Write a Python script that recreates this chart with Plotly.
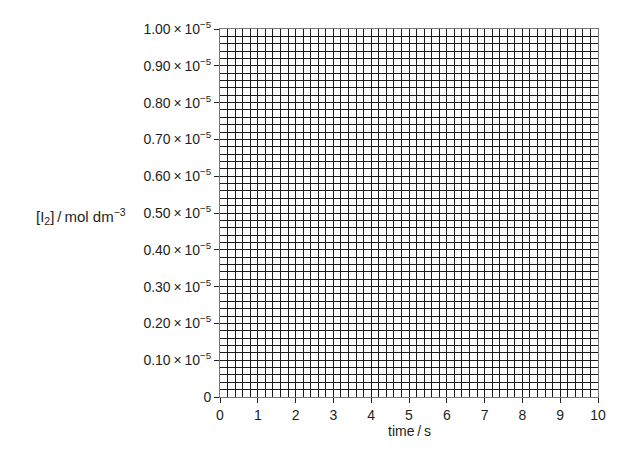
import plotly.graph_objects as go

x_ticks = [0, 1, 2, 3, 4, 5, 6, 7, 8, 9, 10]
x_ticktext = ["0", "1", "2", "3", "4", "5", "6", "7", "8", "9", "10"]
y_ticks = [0, 0.1e-5, 0.2e-5, 0.3e-5, 0.4e-5, 0.5e-5, 0.6e-5, 0.7e-5, 0.8e-5, 0.9e-5, 1.0e-5]
y_ticktext = ["0"] + [f"{v:.2f}\u2009\u00d7\u200910<sup>\u22125</sup>" for v in [0.1, 0.2, 0.3, 0.4, 0.5, 0.6, 0.7, 0.8, 0.9, 1.0]]
x_title = "time\u2009/\u2009s"
y_title = "[I<sub>2</sub>]\u2009/\u2009mol dm<sup>\u22123</sup>"

TXT = "#231f20"
GRID = "#1a1a1a"
FRAME = "#777777"

# page body has an 8px default margin; figure is sized so the plot area lands at x 220-598, y 19-397
fig = go.Figure()
fig.add_trace(go.Scatter(x=[], y=[], mode="lines", showlegend=False))

fig.update_layout(
    width=633, height=441,
    margin=dict(l=212, r=43, t=11, b=52),
    paper_bgcolor="white", plot_bgcolor="white",
    font=dict(family="Liberation Sans, Arial, sans-serif", size=14, color=TXT),
    showlegend=False,
)
fig.update_xaxes(
    range=[0, 10], tickvals=x_ticks, ticktext=x_ticktext,
    showgrid=True, gridcolor=GRID, gridwidth=1,
    minor=dict(dtick=0.2, showgrid=True, gridcolor=GRID, gridwidth=1, ticks=""),
    ticks="outside", ticklen=5, tickcolor=TXT, tickwidth=1,
    showline=True, linecolor=FRAME, linewidth=1, mirror=True,
    zeroline=False, fixedrange=True,
)
fig.update_yaxes(
    range=[0, 1e-5], tickvals=y_ticks, ticktext=y_ticktext,
    showgrid=True, gridcolor=GRID, gridwidth=1,
    minor=dict(dtick=0.02e-5, showgrid=True, gridcolor=GRID, gridwidth=1, ticks=""),
    ticks="outside", ticklen=5, tickcolor=TXT, tickwidth=1,
    showline=True, linecolor=FRAME, linewidth=1, mirror=True,
    zeroline=False, fixedrange=True,
)
fig.add_annotation(text=y_title, xref="paper", yref="paper", x=(128 - 220) / 378, y=0.49,
                   xanchor="right", yanchor="middle", showarrow=False, font=dict(size=15, color=TXT))
fig.add_annotation(text=x_title, xref="paper", yref="paper", x=0.5, y=(397 - 432) / 378,
                   xanchor="center", yanchor="middle", showarrow=False, font=dict(size=14, color=TXT))

fig.write_html("out.html")
